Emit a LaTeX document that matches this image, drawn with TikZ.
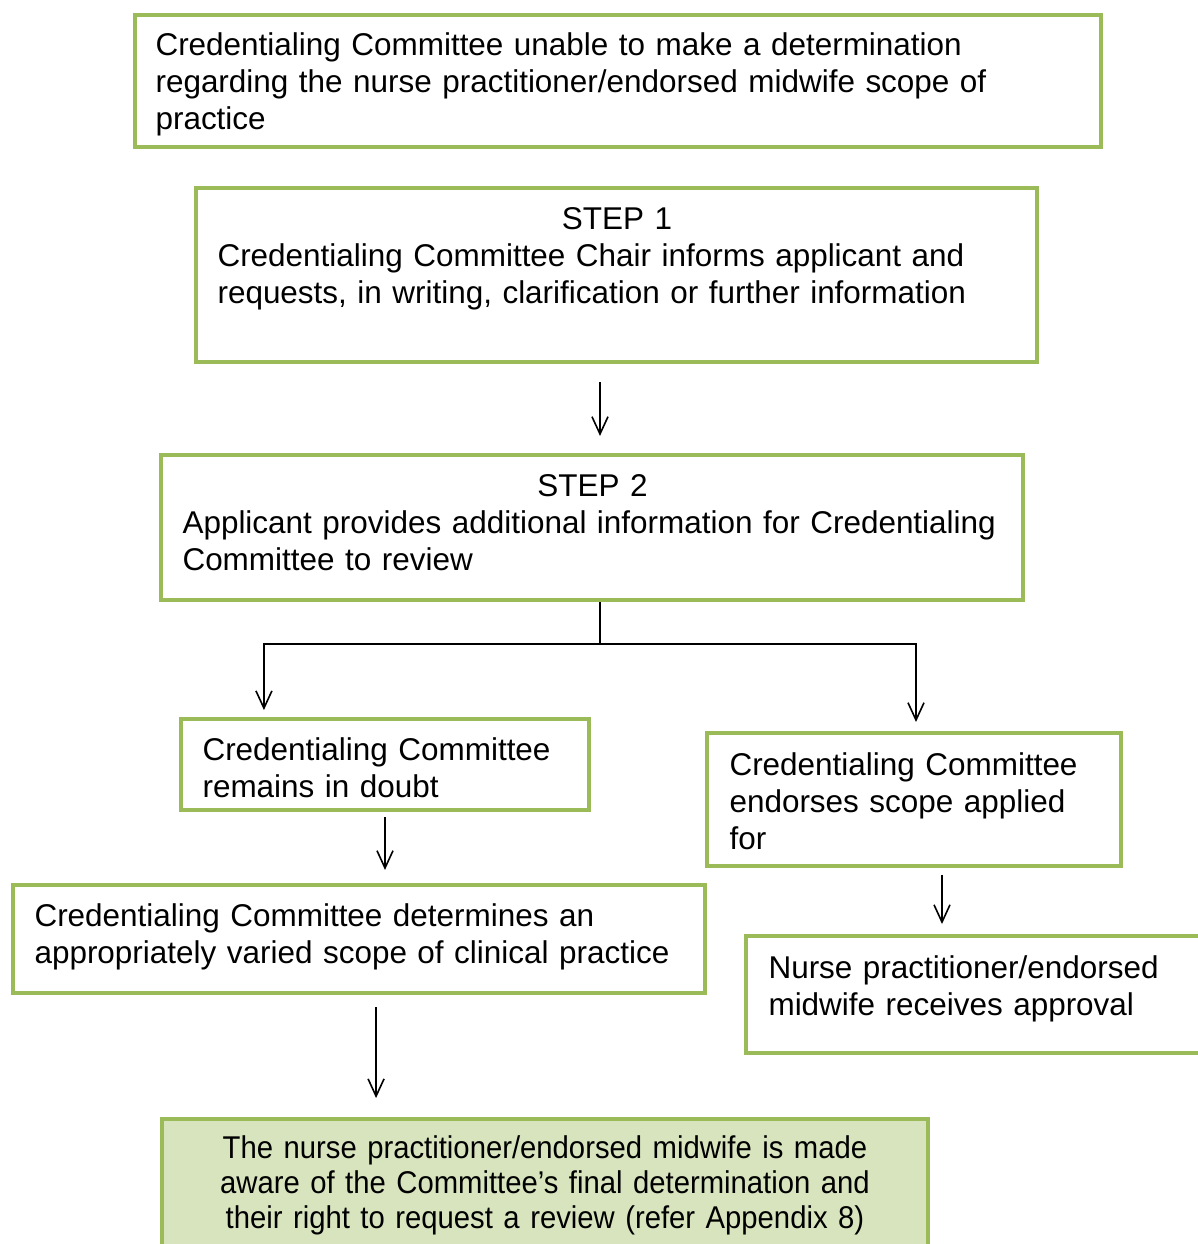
\documentclass[tikz,border=0pt]{standalone}
\usepackage{fontspec}
\setmainfont{Liberation Sans}
\newfontfamily\narrowsans[FakeStretch=0.93]{Liberation Sans}
\usetikzlibrary{arrows.meta}
\definecolor{boxgreen}{RGB}{155,187,89}
\definecolor{boxfill}{RGB}{215,228,189}
\hyphenpenalty=10000
\begin{document}
\begin{tikzpicture}[x=0.375pt, y=-0.375pt,
	gbox/.style={draw=boxgreen, line width=1.5pt, inner sep=0pt},
	txt/.style={font=\fontsize{11.8}{13.875}\selectfont, inner sep=0pt, text width=420pt, align=left, anchor=base west},
	arr/.style={line width=0.6pt, -{Straight Barb[length=6.5pt, width=6pt]}}]
	\clip (0,0) rectangle (1198,1244);
	\node[gbox, minimum width=362.25pt, minimum height=49.5pt] (A) at (618,81) {};
		\node[txt] (A0) at (155,55) {Credentialing Committee unable to make a determination\\ regarding the nurse practitioner/endorsed midwife scope of\\ practice};
	\node[gbox, minimum width=315.375pt, minimum height=65.25pt] (B) at (616.5,275) {};
		\node[txt, text width=299.6pt] (B0) at (217,229) {{\centering STEP 1\par}Credentialing Committee Chair informs applicant and\\ requests, in writing, clarification or further information};
	\node[gbox, minimum width=323.25pt, minimum height=54.375pt] (C) at (592,527.5) {};
		\node[txt, text width=307.5pt] (C0) at (182,496) {{\centering STEP 2\par}Applicant provides additional information for Credentialing\\ Committee to review};
	\node[gbox, minimum width=153pt, minimum height=34.125pt] (D) at (385,764.5) {};
		\node[txt] (D0) at (202,760) {Credentialing Committee\\ remains in doubt};
	\node[gbox, minimum width=155.25pt, minimum height=49.875pt] (E) at (914,799.5) {};
		\node[txt] (E0) at (729,775) {Credentialing Committee\\ endorses scope applied\\ for};
	\node[gbox, minimum width=259.5pt, minimum height=40.5pt] (F) at (359,939) {};
		\node[txt] (F0) at (34,926) {Credentialing Committee determines an\\ appropriately varied scope of clinical practice};
	\node[gbox, minimum width=174pt, minimum height=43.875pt] (G) at (978,994.5) {};
		\node[txt] (G0) at (768,978) {Nurse practitioner/endorsed\\ midwife receives approval};
	\node[gbox, fill=boxfill, minimum width=287.25pt, minimum height=51.375pt] (H) at (545,1187.5) {};
		\node[txt, font=\narrowsans\fontsize{11.8}{13.125}\selectfont, text width=287.25pt, align=center, anchor=base] (H0) at (545,1158) {The nurse practitioner/endorsed midwife is made\\ aware of the Committee’s final determination and\\ their right to request a review (refer Appendix 8)};

	\coordinate (S) at (600,644);
	\draw[arr, shorten <=6.75pt, shorten >=6.4pt] ([xshift=-6.2pt]B.south) -- ([xshift=3pt]C.north);
	\draw[line width=0.6pt] ([xshift=3pt]C.south) -- (S);
	\draw[arr, shorten >=2.6pt] (S) -| ([xshift=-45.4pt]D.north);
	\draw[arr, shorten >=3.4pt] (S) -| ([xshift=0.75pt]E.north);
	\draw[arr, shorten <=1.9pt, shorten >=4.9pt] (D.south) -- (D.south |- F.north);
	\draw[arr, shorten <=2.6pt, shorten >=3.75pt] ([xshift=10.5pt]E.south) -- ([xshift=10.5pt]E.south |- G.north);
	\draw[arr, shorten <=4.5pt, shorten >=7.1pt] ([xshift=6.4pt]F.south) -- ([xshift=6.4pt]F.south |- H.north);
\end{tikzpicture}
\end{document}
